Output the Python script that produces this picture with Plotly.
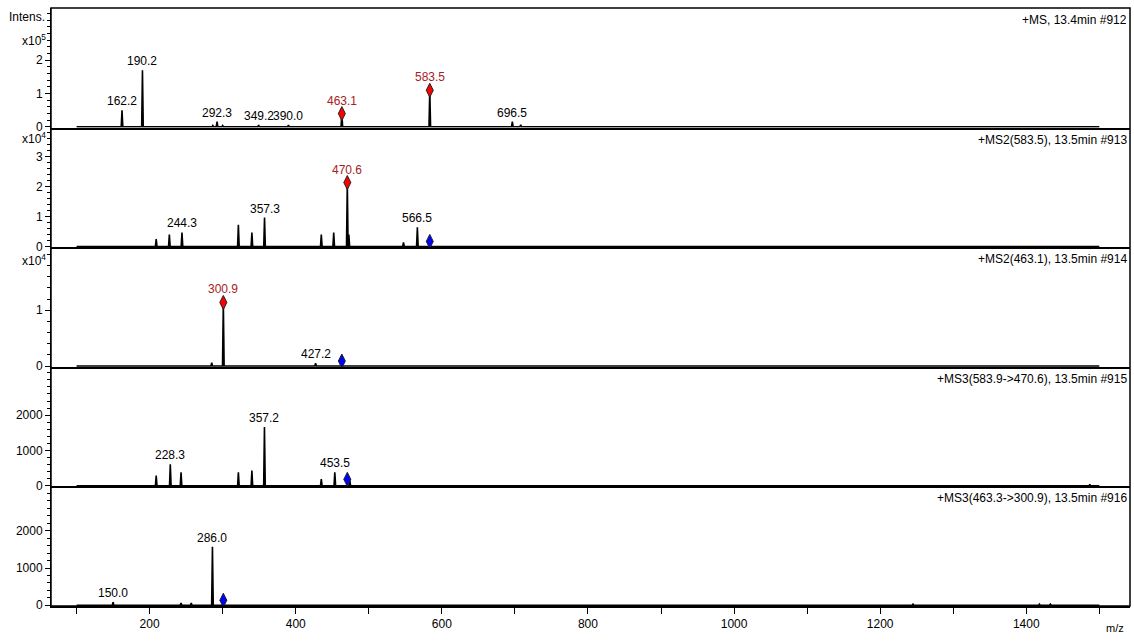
import plotly.graph_objects as go
from plotly.subplots import make_subplots

# ---- spectra (m/z, intensity) ----
ms1_mz = [162.2, 190.2, 286.5, 292.3, 300.0, 349.2, 390.0, 463.1, 583.5, 696.5, 708.0]
ms1_int = [0.50e5, 1.70e5, 0.04e5, 0.16e5, 0.04e5, 0.05e5, 0.05e5, 0.40e5, 1.10e5, 0.16e5, 0.06e5]
ms1_lab = ["162.2", "190.2", None, "292.3", None, "349.2", "390.0", "463.1", "583.5", "696.5", None]

ms2a_mz = [209.0, 227.0, 244.3, 321.5, 340.0, 357.3, 435.0, 452.0, 470.6, 472.7, 547.5, 566.5]
ms2a_int = [0.25e4, 0.40e4, 0.47e4, 0.73e4, 0.47e4, 0.97e4, 0.40e4, 0.47e4, 2.14e4, 0.40e4, 0.14e4, 0.64e4]
ms2a_lab = [None, None, "244.3", None, None, "357.3", None, None, "470.6", None, None, "566.5"]

ms2b_mz = [285.0, 300.9, 427.2]
ms2b_int = [0.06e4, 1.14e4, 0.05e4]
ms2b_lab = [None, "300.9", "427.2"]

ms3a_mz = [209.0, 228.3, 243.0, 321.5, 340.0, 357.2, 435.0, 453.5, 474.0, 1487.0]
ms3a_int = [290, 610, 380, 380, 430, 1665, 190, 380, 150, 40]
ms3a_lab = [None, "228.3", None, None, None, "357.2", None, "453.5", None, None]

ms3b_mz = [150.0, 243.0, 257.0, 286.0, 1245.0, 1418.0, 1433.0]
ms3b_int = [80, 60, 60, 1570, 30, 30, 30]
ms3b_lab = ["150.0", None, None, "286.0", None, None, None]

# precursor ions selected for fragmentation (red) and isolated parent (blue)
sel_mz = [[463.1, 583.5], [470.6], [300.9], [], []]
sel_int = [[0.40e5, 1.10e5], [2.14e4], [1.14e4], [], []]
parent_mz = [None, 583.5, 463.1, 470.6, 300.9]
parent_int = [None, 0.17e4, 0.09e4, 180, 135]

titles = [
    "+MS, 13.4min #912",
    "+MS2(583.5), 13.5min #913",
    "+MS2(463.1), 13.5min #914",
    "+MS3(583.9->470.6), 13.5min #915",
    "+MS3(463.3->300.9), 13.5min #916",
]

y_top = [3.57e5, 3.98e4, 2.13e4, 3370, 3190]
y_tickvals = [[0, 1e5, 2e5], [0, 1e4, 2e4, 3e4], [0, 1e4], [0, 1000, 2000], [0, 1000, 2000]]
y_ticktext = [["0", "1", "2"], ["0", "1", "2", "3"], ["0", "1"], ["0", "1000", "2000"], ["0", "1000", "2000"]]
y_minor = [0.2e5, 0.2e4, 0.2e4, 200, 200]
y_exp = [5, 4, 4, None, None]
# vertical offset (px below panel top) of the exponent label
y_exp_shift = [-32, -10, -13, None, None]

x_ticks = [200, 400, 600, 800, 1000, 1200, 1400]
x_range = [65, 1542]

FONT = "Liberation Sans, Arial, sans-serif"
DARK_RED = "#A52222"

spectra = [
    (ms1_mz, ms1_int, ms1_lab),
    (ms2a_mz, ms2a_int, ms2a_lab),
    (ms2b_mz, ms2b_int, ms2b_lab),
    (ms3a_mz, ms3a_int, ms3a_lab),
    (ms3b_mz, ms3b_int, ms3b_lab),
]

fig = make_subplots(rows=5, cols=1, shared_xaxes=True, vertical_spacing=0)


def stick_profile(mz, inten, start=100.0, end=1500.0, half=1.1):
    xs, ys = [start], [0]
    for m, h in sorted(zip(mz, inten)):
        xs += [m - half, m, m + half]
        ys += [0, h, 0]
    xs.append(end)
    ys.append(0)
    return xs, ys


annotations = []
for i, (mz, inten, labs) in enumerate(spectra):
    row = i + 1
    xs, ys = stick_profile(mz, inten)
    fig.add_trace(go.Scatter(x=xs, y=ys, mode="lines",
                             line=dict(color="black", width=1.6),
                             hoverinfo="skip", showlegend=False), row=row, col=1)
    if sel_mz[i]:
        fig.add_trace(go.Scatter(x=sel_mz[i], y=sel_int[i], mode="markers",
                                 marker=dict(symbol="diamond-tall", size=10, color="#FF0000",
                                             line=dict(color="#202020", width=1)),
                                 hoverinfo="skip", showlegend=False, cliponaxis=False),
                      row=row, col=1)
    if parent_mz[i] is not None:
        fig.add_trace(go.Scatter(x=[parent_mz[i]], y=[parent_int[i]], mode="markers",
                                 marker=dict(symbol="diamond-tall", size=10, color="#0000FF",
                                             line=dict(color="#202020", width=1)),
                                 hoverinfo="skip", showlegend=False, cliponaxis=False),
                      row=row, col=1)

    xref = "x" if row == 1 else f"x{row}"
    yref = "y" if row == 1 else f"y{row}"
    for m, h, lab in zip(mz, inten, labs):
        if lab is None:
            continue
        is_sel = m in sel_mz[i]
        annotations.append(dict(
            x=m, y=h, xref=xref, yref=yref, text=lab, showarrow=False,
            xanchor="center", yanchor="bottom", yshift=4 if is_sel else 0,
            font=dict(family=FONT, size=12, color=DARK_RED if is_sel else "black")))

    # scan title in the upper right corner of each panel
    annotations.append(dict(
        x=1, y=1, xref=f"{xref} domain", yref=f"{yref} domain", text=titles[i],
        showarrow=False, xanchor="right", yanchor="top", xshift=-1, yshift=-3,
        font=dict(family=FONT, size=12, color="black")))

    # intensity exponent near the top of the axis
    if y_exp[i] is not None:
        annotations.append(dict(
            x=0, y=1, xref=f"{xref} domain", yref=f"{yref} domain",
            text=f"x10<sup>{y_exp[i]}</sup>", showarrow=False,
            xanchor="right", yanchor="middle", xshift=-3, yshift=y_exp_shift[i],
            font=dict(family=FONT, size=12, color="black")))

    lo = -0.006 * y_top[i]
    fig.update_yaxes(row=row, col=1, range=[lo, y_top[i]], tickvals=y_tickvals[i],
                     ticktext=y_ticktext[i], ticks="outside", ticklen=5, tickwidth=1,
                     tickcolor="black", showline=True, linecolor="black", linewidth=1,
                     showgrid=False, zeroline=False,
                     minor=dict(dtick=y_minor[i], tick0=0, ticks="outside", ticklen=3,
                                tickcolor="black", showgrid=False),
                     tickfont=dict(family=FONT, size=12, color="black"))
    fig.update_xaxes(row=row, col=1, range=x_range, showline=True, linecolor="black",
                     linewidth=2, showgrid=False, zeroline=False)

fig.update_xaxes(row=5, col=1, tickvals=x_ticks, ticks="outside", ticklen=6, tickwidth=1,
                 tickcolor="black", showticklabels=True,
                 minor=dict(dtick=100, tick0=0, ticks="outside", ticklen=6,
                            tickcolor="black", showgrid=False),
                 tickfont=dict(family=FONT, size=12, color="black"))

annotations.append(dict(x=0, y=1, xref="paper", yref="paper", text="Intens.",
                        showarrow=False, xanchor="right", yanchor="middle",
                        xshift=-4, yshift=-9,
                        font=dict(family=FONT, size=12, color="black")))
annotations.append(dict(x=1522, y=0, xref="x5", yref="paper", text="m/z",
                        showarrow=False, xanchor="center", yanchor="top", yshift=-14,
                        font=dict(family=FONT, size=11, color="black")))

fig.update_layout(
    width=1134, height=642,
    margin=dict(l=51, r=4, t=8, b=36),
    paper_bgcolor="white", plot_bgcolor="white",
    annotations=annotations,
    shapes=[dict(type="rect", xref="paper", yref="paper", x0=0, x1=1, y0=0, y1=1,
                 line=dict(color="black", width=1.5), layer="above")],
    font=dict(family=FONT, color="black"),
)

fig.write_html("out.html")
